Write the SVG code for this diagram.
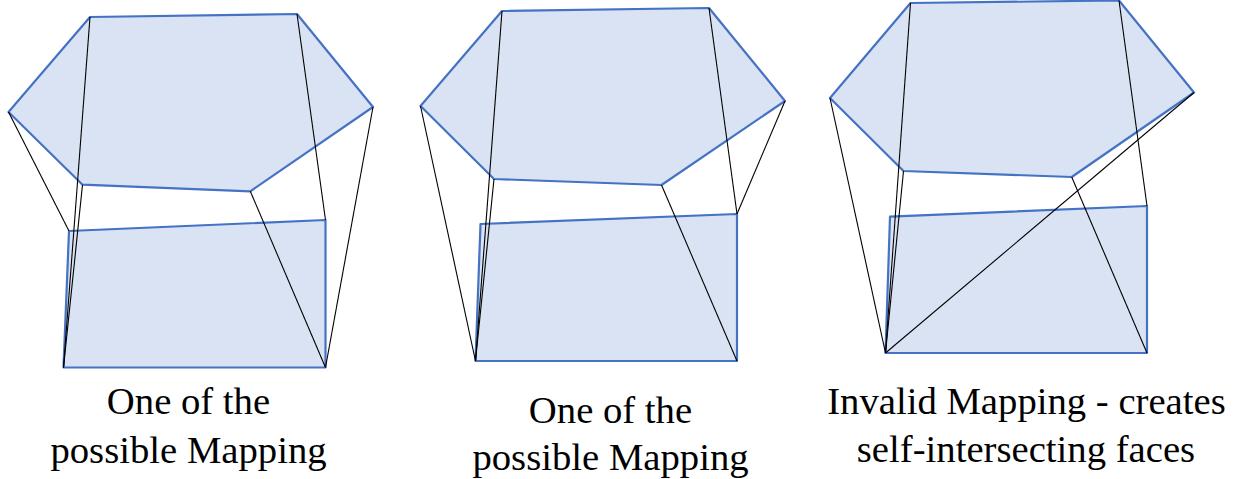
<svg xmlns="http://www.w3.org/2000/svg" width="1233" height="479" viewBox="0 0 1233 479">
<style>
.f{fill:#dae3f3;stroke:#4472c4;stroke-width:2.2;stroke-linejoin:round}
.c line{stroke:#000;stroke-width:1.1}
text{font-family:"Liberation Serif","Times New Roman",serif;font-size:38.7px;fill:#000;text-anchor:middle}
</style>
<rect width="1233" height="479" fill="#fff"/>
<g id="mapping-1">
<polygon class="f" points="8.5,112 90,17 297,14 373,107 250.3,191.3 82.5,184.7"/>
<polygon class="f" points="69,231 325.5,220 325.5,367.5 63.5,367.5"/>
<text x="188.5" y="414">One of the</text>
<text x="188.5" y="463">possible Mapping</text>
</g>
<g id="mapping-2">
<polygon class="f" points="420.5,106 502,11 709,8 785,101 661.5,185 494,179"/>
<polygon class="f" points="480.5,224 737,214 737,361 475.5,361"/>
<text x="610.5" y="423">One of the</text>
<text x="610.5" y="470">possible Mapping</text>
</g>
<g id="mapping-3">
<polygon class="f" points="830,98 910.5,3 1119,0.5 1194,92.5 1071.7,177 903.5,171"/>
<polygon class="f" points="890,216.7 1147,206 1147,353 885.5,353"/>
<text x="1026.5" y="414">Invalid Mapping - creates</text>
<text x="1026" y="462">self-intersecting faces</text>
</g>
<g id="connectors" class="c">
<line x1="8.5" y1="112" x2="69" y2="231"/>
<line x1="90" y1="17" x2="63.5" y2="367.5"/><line x1="82.5" y1="184.7" x2="63.5" y2="367.5"/>
<line x1="297" y1="14" x2="325.5" y2="220"/>
<line x1="373" y1="107" x2="325.5" y2="367.5"/><line x1="250.3" y1="191.3" x2="325.5" y2="367.5"/>
<line x1="420.5" y1="106" x2="475.5" y2="361"/><line x1="502" y1="11" x2="475.5" y2="361"/>
<line x1="494" y1="179" x2="475.5" y2="361"/><line x1="709" y1="8" x2="737" y2="214"/>
<line x1="785" y1="101" x2="737" y2="214"/><line x1="661.5" y1="185" x2="737" y2="361"/>
<line x1="830" y1="98" x2="885.5" y2="353"/><line x1="910.5" y1="3" x2="885.5" y2="353"/>
<line x1="903.5" y1="171" x2="885.5" y2="353"/><line x1="1119" y1="0.5" x2="1147" y2="206"/>
<line x1="1194" y1="92.5" x2="885.5" y2="353"/><line x1="1071.7" y1="177" x2="1147" y2="353"/>
</g>
</svg>
